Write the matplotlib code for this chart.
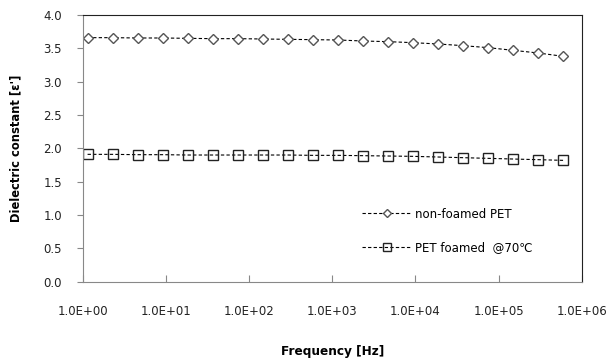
# dielectric constant vs frequency
# non-foamed PET and PET foamed at 70C

import matplotlib
matplotlib.use('AGG')
import matplotlib.pyplot as plt
import numpy as np

#%% data
freq = [1.144, 2.29, 4.58, 9.16, 18.3, 36.6, 73.2, 146.5, 293, 586,
        1172, 2344, 4688, 9375, 18750, 37500, 75000, 150000, 300000, 600000]
eps_nonfoam = [3.66, 3.66, 3.655, 3.655, 3.65, 3.645, 3.645, 3.64, 3.635, 3.63,
               3.625, 3.61, 3.60, 3.585, 3.565, 3.54, 3.51, 3.47, 3.43, 3.38]
eps_foam70 = [1.91, 1.91, 1.905, 1.905, 1.90, 1.90, 1.90, 1.90, 1.90, 1.895,
              1.895, 1.89, 1.885, 1.88, 1.87, 1.86, 1.85, 1.84, 1.83, 1.82]
xticks = [1e0, 1e1, 1e2, 1e3, 1e4, 1e5, 1e6]
xticklabels = ['1.0E+00', '1.0E+01', '1.0E+02', '1.0E+03', '1.0E+04', '1.0E+05', '1.0E+06']
yticks = [0.0, 0.5, 1.0, 1.5, 2.0, 2.5, 3.0, 3.5, 4.0]

#%% make plot
fig = plt.figure(figsize=(6.14, 3.62), dpi=100)
ax = fig.add_axes([0.1347, 0.2218, 0.8127, 0.7368])

ax.plot(freq, eps_nonfoam, color='k', linewidth=0.8, linestyle=(0, (3, 2)),
        marker='D', markersize=5.3, markerfacecolor='white', markeredgecolor='#555555',
        markeredgewidth=1.0, label='non-foamed PET')
ax.plot(freq, eps_foam70, color='k', linewidth=0.8, linestyle=(0, (3, 2)),
        marker='s', markersize=7.5, markerfacecolor='none', markeredgecolor='#222222',
        markeredgewidth=1.0, label='PET foamed  @70\u2103')

ax.set_xscale('log')
ax.set_xlim(1, 1e6)
ax.set_ylim(0, 4)
ax.set_xticks(xticks)
ax.set_xticklabels(xticklabels)
ax.minorticks_off()
ax.set_yticks(yticks)
ax.set_yticklabels(['%.1f' % v for v in yticks])

for s in ['left', 'bottom']:
    ax.spines[s].set_color('#888888')
for s in ['top', 'right']:
    ax.spines[s].set_color('#222222')
ax.tick_params(axis='x', direction='in', length=5, color='#888888', pad=17,
               labelsize=8.5, labelcolor='#222222')
ax.tick_params(axis='y', direction='out', length=4, color='#888888', pad=11,
               labelsize=8.5, labelcolor='#222222')

ax.set_ylabel("Dielectric constant [\u03b5']", fontsize=8.3, fontweight='bold', labelpad=15)
ax.set_xlabel('Frequency [Hz]', fontsize=8.7, fontweight='bold', labelpad=19)

ax.legend(loc='upper left', bbox_to_anchor=(0.56, 0.278), frameon=False, fontsize=8.5,
          handlelength=4.2, labelspacing=1.75, handletextpad=0.3, markerscale=0.75,
          borderpad=0, borderaxespad=0)

fig.savefig('out.png', dpi=100)
plt.close()
